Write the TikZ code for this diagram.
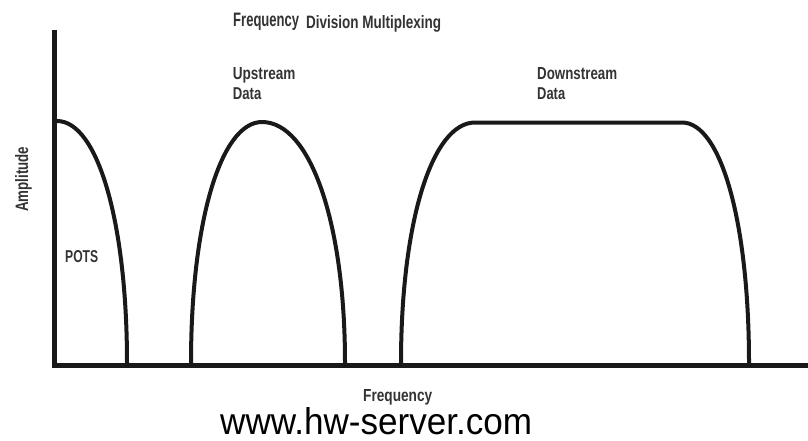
\documentclass[tikz,border=0pt]{standalone}
\usepackage{fontspec}
\usepackage{graphicx}
\setmainfont{Liberation Sans}
% text squeezed into a box of given width and height (above the baseline)
\newcommand{\fitlbl}[3]{\resizebox{#1pt}{#2pt}{#3}}
\begin{document}
\begin{tikzpicture}[x=1pt,y=-1pt,
  axisline/.style={line width=5pt,line join=miter,draw=black!90},
  band/.style={line width=4pt,draw=black!90},
  lbl/.style={inner sep=0pt,anchor=base west,text=black!80,font=\bfseries}]
\useasboundingbox (0,0) rectangle (808,440);

% axes
\coordinate (ytop) at (54.5,30);
\coordinate (origin) at (54.5,365);
\coordinate (xend) at (808,365);
\draw[axisline] (ytop) -- (origin) -- (xend);

% POTS band
\coordinate (p0) at (57,121);
\coordinate (p1) at (127,363);
\draw[band] (p0) .. controls (97.6,121) and (127,222) .. (p1);

% upstream band
\coordinate (u0) at (191,363);
\coordinate (utop) at (262,122);
\coordinate (u1) at (345,363);
\draw[band] (u0) .. controls (191,222) and (220.8,122) .. (utop)
            .. controls (310.1,122) and (345,222) .. (u1);

% downstream band
\coordinate (d0) at (401,363);
\coordinate (dl) at (475,122.5);
\coordinate (dr) at (682,122.5);
\coordinate (d1) at (749,363);
\draw[band] (d0) .. controls (401,222) and (432.1,122.5) .. (dl)
            -- (dr) .. controls (720.9,122.5) and (749,222) .. (d1);

% labels
\node[lbl] (t1) at (233,26.7) {\fitlbl{66}{13.4}{Frequency}};
\node[lbl] (t2) at (306,28) {\fitlbl{135}{13}{Division Multiplexing}};
\node[lbl] (up1) at (232.7,79.3) {\fitlbl{62.5}{12}{Upstream}};
\node[lbl] (up2) at (232.7,99.3) {\fitlbl{28.5}{11.8}{Data}};
\node[lbl] (dn1) at (537,79.3) {\fitlbl{80}{12}{Downstream}};
\node[lbl] (dn2) at (537,99.3) {\fitlbl{28}{11.8}{Data}};
\node[lbl] (pots) at (65,262) {\fitlbl{33}{12}{POTS}};
\node[lbl,rotate=90] (amp) at (28,212) {\fitlbl{65}{13}{Amplitude}};
\node[lbl] (freq) at (363,401) {\fitlbl{69}{12}{Frequency}};
\node[lbl,text=black,font=\mdseries] (url) at (220,434) {\fitlbl{312}{27}{www.hw-server.com}};
\end{tikzpicture}
\end{document}
